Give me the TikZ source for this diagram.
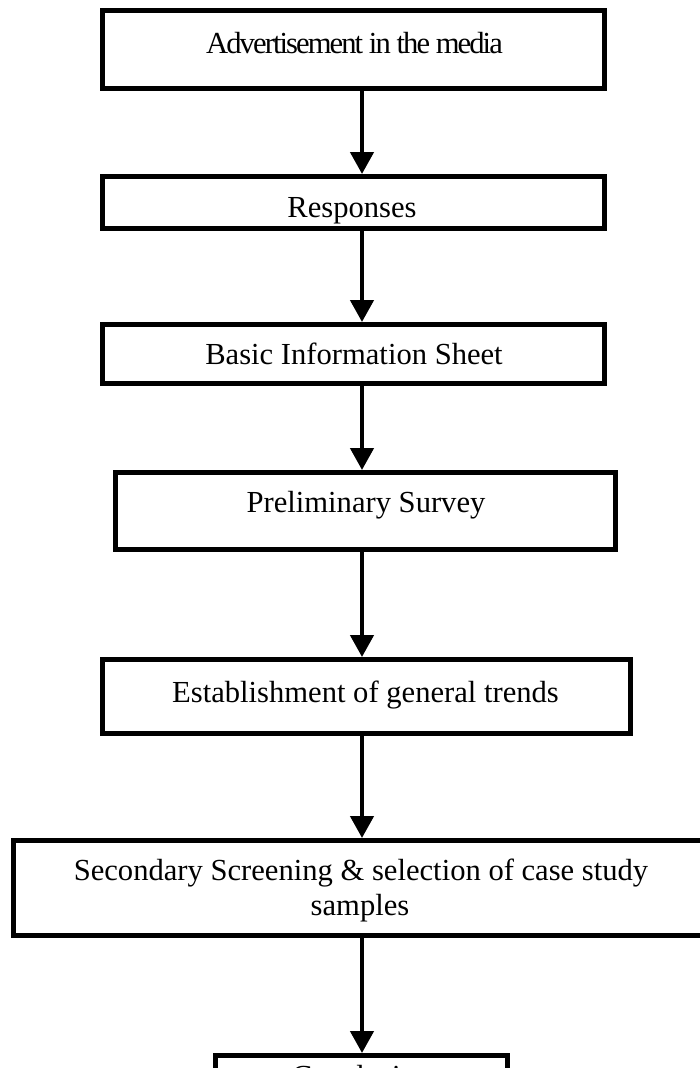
\documentclass[tikz,border=0pt]{standalone}
\usepackage{fontspec}
\setmainfont{Liberation Serif}
\newfontfamily\tightfont[LetterSpace=-6.3]{Liberation Serif}
\usetikzlibrary{arrows.meta}
\begin{document}
\begin{tikzpicture}[x=1pt,y=-1pt,
  box/.style={draw=black, line width=5pt, inner sep=0pt, fill=white},
  txt/.style={inner sep=0pt, anchor=base, font=\fontsize{30.6pt}{35pt}\selectfont},
  arr/.style={line width=4.5pt, -{Triangle[width=23pt,length=22pt]}}]
\useasboundingbox[fill=white] (0,0) rectangle (700,1068);
% boxes (outer edges measured; node size = outer - line width)
\node[box, minimum width=502pt, minimum height=78pt] (b1) at (353.5,49.5) {};
\node[box, minimum width=502pt, minimum height=52pt] (b2) at (353.5,202.5) {};
\node[box, minimum width=502pt, minimum height=59pt] (b3) at (353.5,354) {};
\node[box, minimum width=500pt, minimum height=77pt] (b4) at (365.5,511) {};
\node[box, minimum width=528pt, minimum height=74pt] (b5) at (366.5,696.5) {};
\node[box, minimum width=697pt, minimum height=95pt] (b6) at (362,888) {};
\node[box, minimum width=292pt, minimum height=65pt] (b7) at (361.5,1088) {};
% texts
\node[txt] (t1) at (354.5,53) {\tightfont Advertisement in the media};
\node[txt] (t2) at (352,217) {Responses};
\node[txt] (t3) at (354,364) {Basic Information Sheet};
\node[txt] (t4) at (366,512) {Preliminary Survey};
\node[txt] (t5) at (365.5,702) {Establishment of general trends};
\node[txt] (t6a) at (361,880) {Secondary Screening \& selection of case study};
\node[txt] (t6b) at (360,915) {samples};
\node[txt] (t7) at (361.5,1086) {Conclusion};
% connectors
\coordinate (ax) at (362,0);
\draw[arr] (b1.south -| ax) -- (b2.north -| ax);
\draw[arr] (b2.south -| ax) -- (b3.north -| ax);
\draw[arr] (b3.south -| ax) -- (b4.north -| ax);
\draw[arr] (b4.south -| ax) -- (b5.north -| ax);
\draw[arr] (b5.south -| ax) -- (b6.north -| ax);
\draw[arr] (b6.south -| ax) -- (b7.north -| ax);
\end{tikzpicture}
\end{document}
